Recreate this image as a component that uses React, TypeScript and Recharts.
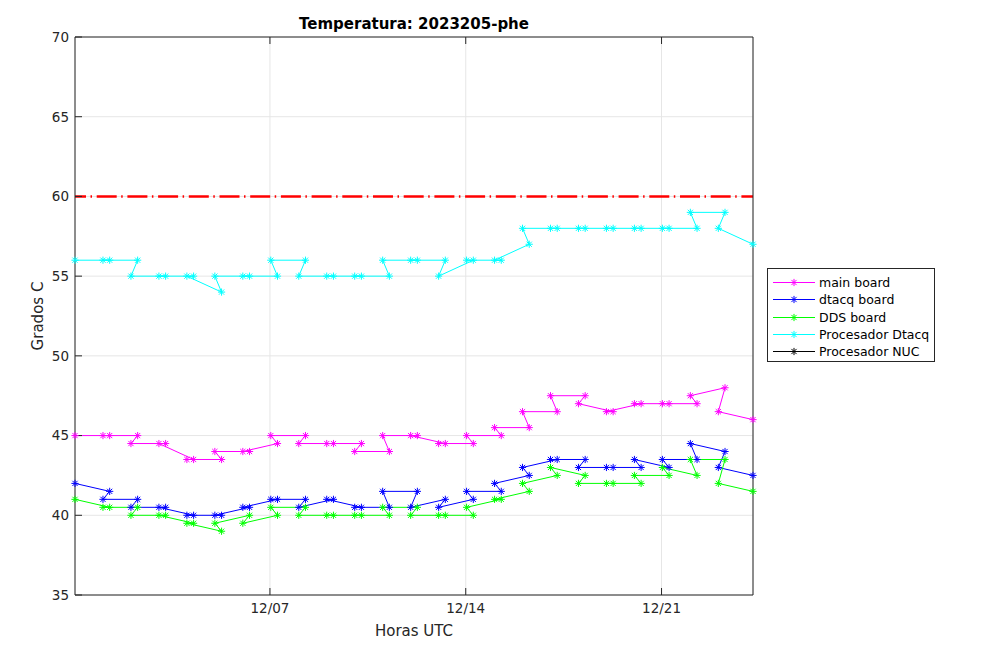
import React from 'react';
import { LineChart, Line, XAxis, YAxis, CartesianGrid, ReferenceLine } from 'recharts';

// sample times in days since 30 Nov 00:00 UTC, in the order the log lists them
const sampleDays = [
  0.03,
  1.27, 1.03, 2.27, 2.03, 3.27, 3.03, 4.27, 4.03, 5.27, 5.03,
  6.27, 6.03, 7.27, 7.03, 8.27, 8.03, 9.27, 9.03, 10.27, 10.03,
  11.27, 11.03, 12.27, 12.03, 13.27, 13.03, 14.27, 14.03, 15.27, 15.03,
  16.27, 16.03, 17.27, 17.03, 18.27, 18.03, 19.27, 19.03, 20.27, 20.03,
  21.27, 21.03, 22.27, 22.03, 23.27, 23.03,
  24.27,
];

const mainBoard = [
  45,
  45, 45, 45, 44.5, 44.5, 44.5, 43.5, 43.5, 43.5, 44,
  44, 44, 44.5, 45, 45, 44.5, 44.5, 44.5, 44.5, 44,
  44, 45, 45, 45, 44.5, 44.5, 44.5, 45, 45, 45.5,
  45.5, 46.5, 46.5, 47.5, 47.5, 47, 46.5, 46.5, 47, 47,
  47, 47, 47, 47.5, 48, 46.5,
  46,
];

const dtacqBoard = [
  42,
  41.5, 41, 41, 40.5, 40.5, 40.5, 40, 40, 40, 40,
  40.5, 40.5, 41, 41, 41, 40.5, 41, 41, 40.5, 40.5,
  40.5, 41.5, 41.5, 40.5, 41, 40.5, 41, 41.5, 41.5, 42,
  42.5, 43, 43.5, 43.5, 43.5, 43, 43, 43, 43, 43.5,
  43, 43.5, 43.5, 44.5, 44, 43,
  42.5,
];

const ddsBoard = [
  41,
  40.5, 40.5, 40.5, 40, 40, 40, 39.5, 39.5, 39, 39.5,
  40, 39.5, 40, 40.5, 40.5, 40, 40, 40, 40, 40,
  40, 40.5, 40.5, 40, 40, 40, 40, 40.5, 41, 41,
  41.5, 42, 42.5, 43, 42.5, 42, 42, 42, 42, 42.5,
  42.5, 43, 42.5, 43.5, 43.5, 42,
  41.5,
];

const procDtacq = [
  56,
  56, 56, 56, 55, 55, 55, 55, 55, 54, 55,
  55, 55, 55, 56, 56, 55, 55, 55, 55, 55,
  55, 56, 56, 56, 56, 55, 56, 56, 56, 56,
  57, 58, 58, 58, 58, 58, 58, 58, 58, 58,
  58, 58, 58, 59, 59, 58,
  57,
];

// the NUC processor has no readings in this period
const procNuc: number[] = [];

const tempLimit = 60;

const xTickDays = [7, 14, 21];
const xTickLabels = ['12/07', '12/14', '12/21'];
const yTicks = [35, 40, 45, 50, 55, 60, 65, 70];

const series = [
  { key: 'main', name: 'main board', color: '#ff00ff' },
  { key: 'dtacq', name: 'dtacq board', color: '#0000ff' },
  { key: 'dds', name: 'DDS board', color: '#00ff00' },
  { key: 'proc', name: 'Procesador Dtacq', color: '#00ffff' },
  { key: 'nuc', name: 'Procesador NUC', color: '#000000' },
];

const rows = sampleDays.map((t, i) => ({
  t,
  main: mainBoard[i],
  dtacq: dtacqBoard[i],
  dds: ddsBoard[i],
  proc: procDtacq[i],
  nuc: procNuc[i],
}));

const FONT = '"DejaVu Sans", sans-serif';
const AXIS = '#262626';

const Star = ({ cx, cy, color, r = 3.6 }: { cx: number; cy: number; color: string; r?: number }) => {
  const d = r * 0.72;
  return (
    <g stroke={color} strokeWidth={1}>
      <line x1={cx - r} y1={cy} x2={cx + r} y2={cy} />
      <line x1={cx} y1={cy - r} x2={cx} y2={cy + r} />
      <line x1={cx - d} y1={cy - d} x2={cx + d} y2={cy + d} />
      <line x1={cx - d} y1={cy + d} x2={cx + d} y2={cy - d} />
    </g>
  );
};

const starDot = (color: string) => (props: any) => {
  const { cx, cy, index } = props;
  if (cx == null || cy == null || Number.isNaN(cy)) return <g key={index} />;
  return (
    <g key={index}>
      <Star cx={cx} cy={cy} color={color} />
    </g>
  );
};

const dayLabel = (v: number) => {
  const i = xTickDays.indexOf(v);
  return i >= 0 ? xTickLabels[i] : '';
};

const TempChart: React.FC = () => {
  return (
    <div style={{ position: 'absolute', left: 0, top: 0, width: 1008, height: 661, background: '#fff', fontFamily: FONT }}>
      <div
        style={{
          position: 'absolute', left: 75, top: 15, width: 678, textAlign: 'center',
          fontSize: 15, lineHeight: '18px', fontWeight: 'bold', color: '#000',
        }}
      >
        Temperatura: 2023205-phe
      </div>

      <LineChart
        width={1008}
        height={661}
        data={rows}
        margin={{ top: 27, right: 245, bottom: 36, left: 25 }}
      >
        <CartesianGrid xAxisId="b" yAxisId="l" stroke="#e6e6e6" strokeWidth={1} />
        <XAxis
          xAxisId="b"
          dataKey="t"
          type="number"
          domain={['dataMin', 'dataMax']}
          ticks={xTickDays}
          tickFormatter={dayLabel}
          height={30}
          tickSize={-7}
          tickMargin={15}
          stroke={AXIS}
          tick={{ fill: AXIS, fontSize: 13.5, fontFamily: FONT }}
        />
        <XAxis
          xAxisId="top"
          orientation="top"
          dataKey="t"
          type="number"
          domain={['dataMin', 'dataMax']}
          ticks={xTickDays}
          tickFormatter={() => ''}
          height={10}
          tickSize={-7}
          stroke={AXIS}
        />
        <YAxis
          yAxisId="l"
          domain={[35, 70]}
          ticks={yTicks}
          width={50}
          tickSize={-7}
          tickMargin={13}
          stroke={AXIS}
          tick={{ fill: AXIS, fontSize: 13.5, fontFamily: FONT }}
        />
        <YAxis
          yAxisId="r"
          orientation="right"
          domain={[35, 70]}
          ticks={yTicks}
          width={10}
          tickSize={-7}
          tickFormatter={() => ''}
          stroke={AXIS}
        />
        {series.map((s) => (
          <Line
            key={s.key}
            xAxisId="b"
            yAxisId="l"
            type="linear"
            dataKey={s.key}
            name={s.name}
            stroke={s.color}
            strokeWidth={1}
            dot={starDot(s.color)}
            activeDot={false}
            isAnimationActive={false}
          />
        ))}
        <ReferenceLine
          xAxisId="b"
          yAxisId="l"
          y={tempLimit}
          stroke="#ff0000"
          strokeWidth={2.6}
          strokeDasharray="20 4.5 1.5 4.7"
          strokeDashoffset={9}
        />
      </LineChart>

      <div
        style={{
          position: 'absolute', left: 75, top: 622, width: 678, textAlign: 'center',
          fontSize: 15, lineHeight: '18px', color: AXIS,
        }}
      >
        Horas UTC
      </div>
      <div
        style={{
          position: 'absolute', left: -62, top: 307, width: 200, textAlign: 'center',
          fontSize: 15, lineHeight: '18px', color: AXIS, transform: 'rotate(-90deg)',
        }}
      >
        Grados C
      </div>

      <div
        style={{
          position: 'absolute', left: 767, top: 268, width: 168, height: 94,
          border: `1px solid ${AXIS}`, boxSizing: 'border-box', background: '#fff',
        }}
      >
        {series.map((s, i) => (
          <div
            key={s.key}
            style={{ position: 'absolute', left: 0, top: 5 + i * 17.3, height: 17, width: 166 }}
          >
            <svg width={50} height={17} style={{ position: 'absolute', left: 0, top: 0 }}>
              <line x1={5} y1={8.5} x2={47} y2={8.5} stroke={s.color} strokeWidth={1} />
              <Star cx={26} cy={8.5} color={s.color} />
            </svg>
            <span
              style={{
                position: 'absolute', left: 51, top: 0, lineHeight: '17px',
                fontSize: 12.5, color: '#000', whiteSpace: 'nowrap',
              }}
            >
              {s.name}
            </span>
          </div>
        ))}
      </div>
    </div>
  );
};

export default function App() {
  return <TempChart />;
}
